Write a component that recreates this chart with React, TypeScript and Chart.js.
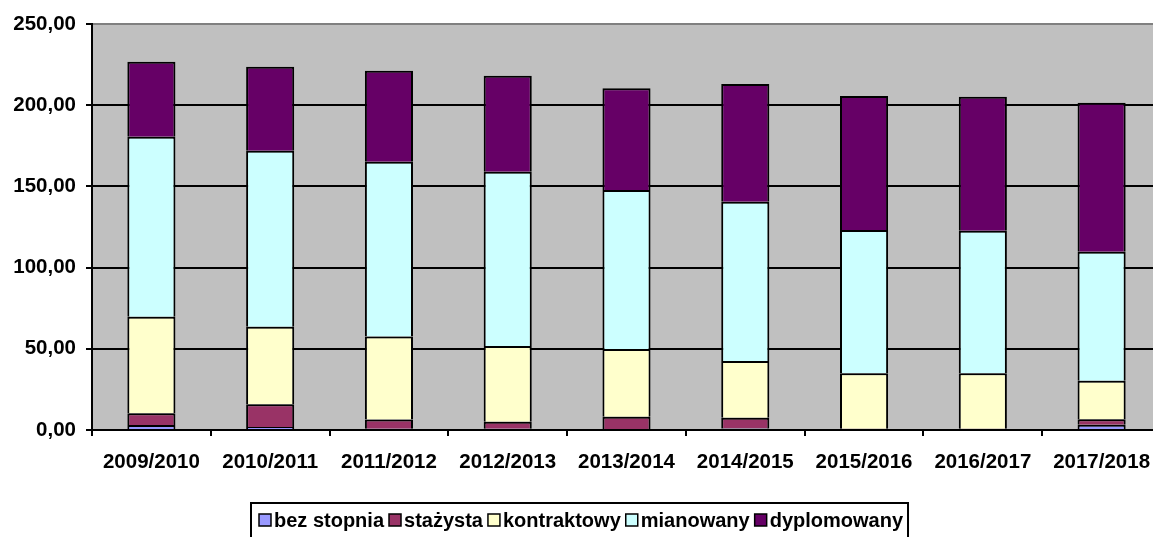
import React, { useEffect, useRef } from "react";
import { Chart, registerables } from "chart.js";

Chart.register(...registerables);

const categories = ["2009/2010", "2010/2011", "2011/2012", "2012/2013", "2013/2014", "2014/2015", "2015/2016", "2016/2017", "2017/2018"];
const bezStopnia = [3.1, 1.8, 0.8, 0.8, 0, 1.0, 0, 0, 3.3];
const stazysta = [7.2, 14.0, 5.6, 4.3, 8.2, 6.6, 0.8, 0.8, 3.3];
const kontraktowy = [59.5, 47.8, 51.1, 46.6, 41.7, 34.9, 34.1, 34.1, 23.7];
const mianowany = [110.8, 108.4, 107.7, 107.3, 97.9, 98.1, 88.3, 87.8, 79.5];
const dyplomowany = [46.2, 51.7, 56.0, 59.2, 62.6, 72.4, 82.5, 82.5, 91.7];
const seriesNames = ["bez stopnia", "stażysta", "kontraktowy", "mianowany", "dyplomowany"];
const seriesColors = ["#9999FF", "#993366", "#FFFFCC", "#CCFFFF", "#660066"];
const yTicks = [0, 50, 100, 150, 200, 250];

const FONT = "'Liberation Sans', Arial, sans-serif";

const bgPlugin = {
  id: "bgPlugin",
  beforeDraw(chart: any) {
    const { ctx, chartArea } = chart;
    ctx.save();
    ctx.fillStyle = "#C0C0C0";
    ctx.fillRect(chartArea.left, chartArea.top, chartArea.right - chartArea.left, chartArea.bottom - chartArea.top);
    ctx.restore();
  },
  afterDraw(chart: any) {
    const { ctx } = chart;
    ctx.save();
    ctx.font = `bold 20px ${FONT}`;
    ctx.textBaseline = "middle";
    const boxLeft = 251;
    const boxTop = 503;
    const cy = 520;
    let x = boxLeft + 8;
    chart.data.datasets.forEach((ds: any) => {
      ctx.fillStyle = ds.backgroundColor;
      ctx.fillRect(x, cy - 6, 12, 12);
      ctx.strokeStyle = "#000";
      ctx.lineWidth = 1.5;
      ctx.strokeRect(x, cy - 6, 12, 12);
      x += 15;
      ctx.fillStyle = "#000";
      ctx.fillText(ds.label, x, cy + 1);
      x += ctx.measureText(ds.label).width + 5;
    });
    ctx.strokeStyle = "#000";
    ctx.lineWidth = 2;
    ctx.strokeRect(boxLeft, boxTop, x - boxLeft, 40);
    ctx.restore();
  },
};

export default function App() {
  const ref = useRef<HTMLCanvasElement>(null);
  useEffect(() => {
    const datasets = [bezStopnia, stazysta, kontraktowy, mianowany, dyplomowany].map((d, i) => ({
      label: seriesNames[i],
      data: d,
      backgroundColor: seriesColors[i],
      borderColor: "#000",
      borderWidth: 2,
      barPercentage: 0.405,
      categoryPercentage: 1,
    }));
    const chart = new Chart(ref.current!, {
      type: "bar",
      data: { labels: categories, datasets },
      plugins: [bgPlugin],
      options: {
        animation: false,
        responsive: false,
        maintainAspectRatio: false,
        layout: { padding: { left: 0, top: 24, right: 9, bottom: 45 } },
        plugins: { legend: { display: false }, tooltip: { enabled: false } },
        scales: {
          x: {
            stacked: true,
            afterFit: (s: any) => { s.height = 62; },
            grid: { drawOnChartArea: false, drawTicks: true, tickLength: 6, color: "#000", lineWidth: 2, offset: true },
            border: { display: true, color: "#000", width: 2 },
            ticks: { color: "#000", font: { family: FONT, size: 20.5, weight: "bold" }, padding: 14, maxRotation: 0, autoSkip: false },
          },
          y: {
            stacked: true,
            min: 0,
            max: 250,
            afterFit: (s: any) => { s.width = 92; },
            afterBuildTicks: (s: any) => { s.ticks = yTicks.map((v) => ({ value: v })); },
            grid: {
              color: (c: any) => (c.tick && c.tick.value === 250 ? "#808080" : "#000"),
              tickColor: "#000",
              lineWidth: 2,
              tickLength: 6,
              drawTicks: true,
            },
            border: { display: true, color: "#000", width: 2 },
            ticks: {
              color: "#000",
              font: { family: FONT, size: 20.5, weight: "bold" },
              padding: 10,
              callback: (v: any) => Number(v).toFixed(2).replace(".", ","),
            },
          },
        },
      },
    });
    return () => chart.destroy();
  }, []);
  return (
    <div style={{ position: "absolute", left: 0, top: 0, width: 1153, height: 537, overflow: "hidden", background: "#fff" }}>
      <canvas ref={ref} width={1170} height={537} style={{ width: 1170, height: 537, display: "block" }} />
    </div>
  );
}
